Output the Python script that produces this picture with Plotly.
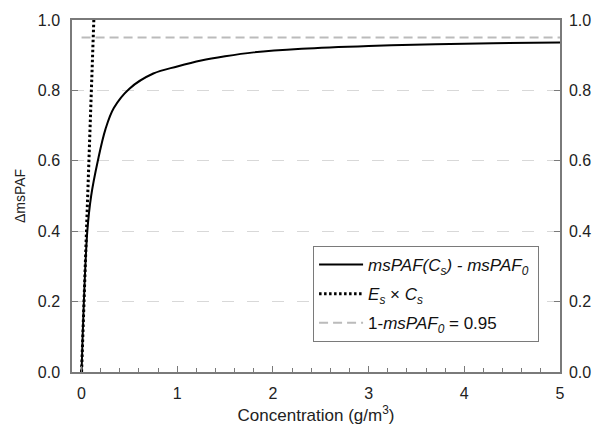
import plotly.graph_objects as go

# Data
curve_x = [0, 0.01, 0.024, 0.06, 0.1, 0.17, 0.25, 0.337, 0.5, 0.75, 1.0, 1.25, 1.5, 1.8, 2.3, 3.0, 3.7, 4.3, 5.0]
curve_y = [0, 0.09, 0.2, 0.4, 0.5, 0.6, 0.69, 0.75, 0.805, 0.848, 0.868, 0.885, 0.897, 0.908, 0.918, 0.926, 0.931, 0.934, 0.936]
slope_x = [0, 0.128]
slope_y = [0, 1.0]
limit_x = [0, 5]
limit_y = [0.95, 0.95]
y_ticks = [0.0, 0.2, 0.4, 0.6, 0.8, 1.0]
y_ticklabels = ["0.0", "0.2", "0.4", "0.6", "0.8", "1.0"]
x_ticks = [0, 1, 2, 3, 4, 5]

FONT = "Liberation Sans, Arial, sans-serif"
AXC = "#7a7a7a"

fig = go.Figure()
fig.add_trace(go.Scatter(
    x=curve_x, y=curve_y, mode="lines", line_shape="spline", legendgroup="a",
    line=dict(color="black", width=2),
    name="<i>msPAF(C<sub>s</sub>) - msPAF<sub>0</sub></i> "))
fig.add_trace(go.Scatter(
    x=slope_x, y=slope_y, mode="lines", legendgroup="b",
    line=dict(color="black", width=3, dash="2.5px,2.5px"),
    name="<i>E<sub>s</sub></i> × <i>C<sub>s</sub></i>"))
fig.add_trace(go.Scatter(
    x=limit_x, y=limit_y, mode="lines", yaxis="y2", legendgroup="c",
    line=dict(color="#bbbbbb", width=2, dash="9px,5px"),
    name="1-<i>msPAF<sub>0</sub></i> = 0.95"))

fig.update_layout(
    width=595, height=425,
    margin=dict(l=72, r=35, t=20, b=53),
    paper_bgcolor="white", plot_bgcolor="white",
    font=dict(family=FONT, size=16, color="#222"),
    showlegend=True,
    legend=dict(x=0.494, y=0.358, xanchor="left", yanchor="top",
                bordercolor=AXC, borderwidth=1, bgcolor="white",
                font=dict(size=17, color="#111"), tracegroupgap=4,
                itemwidth=44),
    xaxis=dict(range=[-0.1, 5], tickvals=x_ticks, ticks="inside", ticklen=6,
               tickcolor=AXC, showline=True, linecolor=AXC, linewidth=1.5,
               mirror=True, showgrid=False, zeroline=False,
               ticklabelstandoff=6, automargin=False,
               minor=dict(dtick=0.2, ticks="inside", ticklen=4, tickcolor=AXC),
               title=dict(text="Concentration (g/m<sup>3</sup>)", font=dict(size=17, color="#222"), standoff=21)),
    yaxis=dict(range=[0, 1], tickvals=y_ticks, ticktext=y_ticklabels,
               ticks="inside", ticklen=6, tickcolor=AXC,
               showline=True, linecolor=AXC, linewidth=1.5,
               showgrid=True, gridcolor="#d8d8d8", griddash="12px,13px", gridwidth=1,
               zeroline=False, ticklabelstandoff=7, automargin=False,
               title=dict(text="ΔmsPAF", font=dict(size=14, color="#222"), standoff=9)),
    yaxis2=dict(range=[0, 1], tickvals=y_ticks, ticktext=y_ticklabels,
                overlaying="y", side="right", ticks="inside", ticklen=6,
                tickcolor=AXC, showline=True, linecolor=AXC, linewidth=1.5,
                showgrid=False, zeroline=False, ticklabelstandoff=4, automargin=False),
)

fig.write_html("out.html", config={"displayModeBar": False},
               post_script="document.body.style.margin='0';document.body.style.overflow='hidden';")
